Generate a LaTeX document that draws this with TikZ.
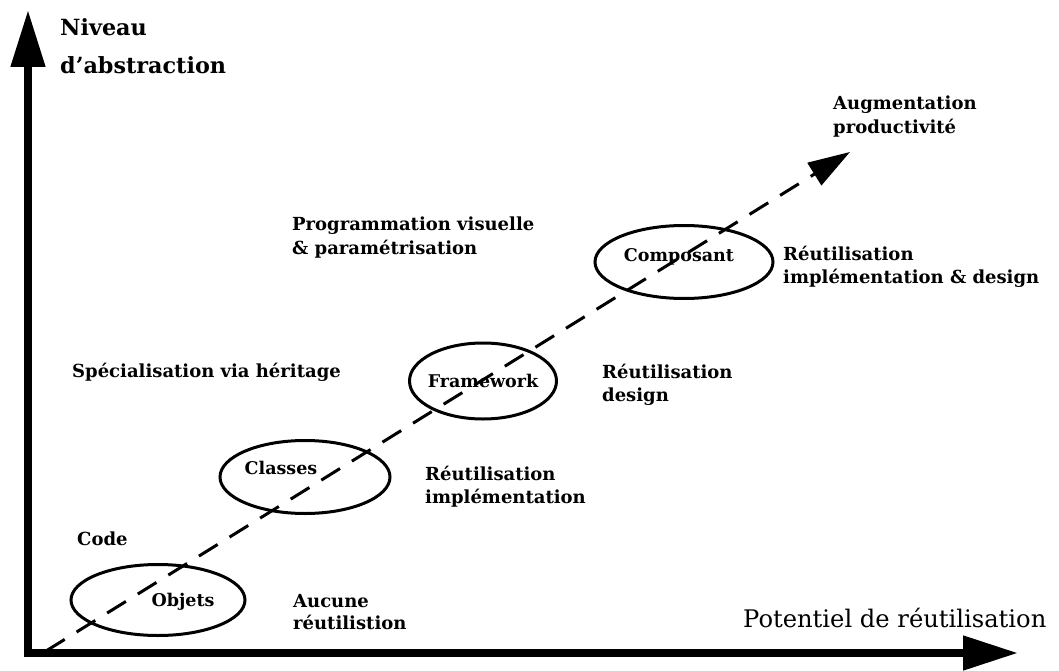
\documentclass[tikz,border=0pt]{standalone}
\usepackage{fontspec}
\setmainfont{DejaVu Serif}
\usetikzlibrary{arrows.meta,shapes.geometric}
\begin{document}
\begin{tikzpicture}[x=1pt,y=-1pt,
  lbl/.style={font=\bfseries\fontsize{18}{22}\selectfont, inner sep=0pt, anchor=base west},
  big/.style={font=\bfseries\fontsize{22.3}{26}\selectfont, inner sep=0pt, anchor=base west},
  axislbl/.style={font=\fontsize{24.2}{28}\selectfont, inner sep=0pt, anchor=base west},
  ell/.style={draw, ellipse, line width=3pt, inner sep=0pt},
  inell/.style={font=\bfseries\fontsize{17.5}{21}\selectfont, inner sep=0pt},
  axis/.style={line width=8pt, {Triangle[length=57pt,width=33pt]}-{Triangle[length=55pt,width=33pt]}},
  trend/.style={line width=3pt, dash pattern=on 22pt off 14pt, -{Triangle[length=42pt,width=26pt]}}]
\useasboundingbox (0,0) rectangle (1059,671);
\fill[white] (0,0) rectangle (1059,671);

% axes
\coordinate (ytip) at (28,10);
\coordinate (xtip) at (1018,653);
\draw[axis] (ytip) |- (xtip);

% axis labels
\node[big] (niv1) at (60,36) {Niveau};
\node[big] (niv2) at (60,74) {d'abstraction};
\node[axislbl] (pot) at (743,627) {Potentiel de réutilisation};

% ellipses
\node[ell, minimum width=174pt, minimum height=71pt] (objE) at (158,600) {};
\node[ell, minimum width=170pt, minimum height=73pt] (claE) at (305,477) {};
\node[ell, minimum width=147pt, minimum height=76pt] (fraE) at (483,381) {};
\node[ell, minimum width=178pt, minimum height=73pt] (comE) at (684,262) {};

\node[inell] (objT) at (183,602) {Objets};
\node[inell] (claT) at (281,468) {Classes};
\node[inell] (fraT) at (483,381) {Framework};
\node[inell] (comT) at (679,257) {Composant};

% labels
\node[lbl] (aug1) at (833,110) {Augmentation};
\node[lbl] (aug2) at (833,134) {productivité};
\node[lbl] (prog1) at (292,230) {Programmation visuelle};
\node[lbl] (prog2) at (292,254) {\& paramétrisation};
\node[lbl] (rc1) at (783,260) {Réutilisation};
\node[lbl] (rc2) at (783,283) {implémentation \& design};
\node[lbl] (spec) at (72,377) {Spécialisation via héritage};
\node[lbl] (rd1) at (602,378) {Réutilisation};
\node[lbl] (rd2) at (602,401) {design};
\node[lbl] (ri1) at (425,480) {Réutilisation};
\node[lbl] (ri2) at (425,503) {implémentation};
\node[lbl] (code) at (77,545) {Code};
\node[lbl] (auc1) at (293,607) {Aucune};
\node[lbl] (auc2) at (293,629) {réutilistion};

% trend line
\coordinate (ts) at (46,651);
\coordinate (te) at (850,152);
\draw[trend] (ts) -- (te);
\end{tikzpicture}
\end{document}
